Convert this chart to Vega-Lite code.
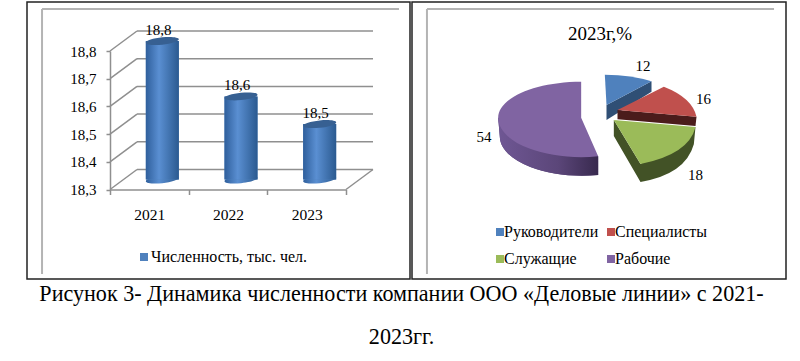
{
"$schema":"https://vega.github.io/schema/vega-lite/v6.json",
"padding":{"left":26,"top":1,"right":0,"bottom":0},
"background":"white",
"config":{"font":"Liberation Serif","view":{"stroke":"#222222","strokeWidth":1.5}},
"title":{"text":["Рисунок 3- Динамика численности компании ООО «Деловые линии» с 2021-","2023гг."],"orient":"bottom","anchor":"middle","fontSize":22.1,"fontWeight":"normal","color":"#000000","lineHeight":43,"offset":4,"dx":-5},
"datasets":{
"staff":[{"year":"2021","value":18.8,"label":"18,8","series":"Численность, тыс. чел."},{"year":"2022","value":18.6,"label":"18,6","series":"Численность, тыс. чел."},{"year":"2023","value":18.5,"label":"18,5","series":"Численность, тыс. чел."}],
"ticks":[{"tick":18.3},{"tick":18.4},{"tick":18.5},{"tick":18.6},{"tick":18.7},{"tick":18.8}],
"shares":[{"group":"Руководители","share":12},{"group":"Специалисты","share":16},{"group":"Служащие","share":18},{"group":"Рабочие","share":54}]
},
"resolve":{"scale":{"color":"independent","x":"independent","y":"independent"},"legend":{"color":"independent"}},
"spacing":0,
"hconcat":[
{"width":383,"height":277,
"resolve":{"scale":{"x":"independent"},"axis":{"y":"independent"}},
"layer":[
{"data":{"values":[{}]},"mark":{"type":"rule","color":"#b4b4b4","strokeWidth":2},
"encoding":{"x":{"datum":-0.288,"type":"quantitative","scale":{"domain":[0,1],"range":[83,319]},"axis":null},"y":{"datum":17.995,"type":"quantitative","scale":{"domain":[18.3,18.8],"range":[187.5,49],"zero":false,"nice":false},"axis":null},"y2":{"datum":18.9516}}},
{"data":{"values":[{}]},"mark":{"type":"rule","color":"#b4b4b4","strokeWidth":2},
"encoding":{"x":{"datum":-0.288,"type":"quantitative","scale":{"domain":[0,1],"range":[83,319]},"axis":null},"x2":{"datum":1.2246},"y":{"datum":18.9516,"type":"quantitative","scale":{"domain":[18.3,18.8],"range":[187.5,49],"zero":false,"nice":false},"axis":null}}},
{"data":{"name":"ticks"},"mark":{"type":"rule","color":"#8f8f8f","strokeWidth":1.5,"xOffset":27,"x2Offset":27,"yOffset":-20,"y2Offset":-20},
"encoding":{"x":{"datum":0,"type":"quantitative","scale":{"domain":[0,1],"range":[83,319]},"axis":null},"x2":{"datum":1},"y":{"field":"tick","type":"quantitative","scale":{"domain":[18.3,18.8],"range":[187.5,49],"zero":false,"nice":false},"axis":null},"y2":{"field":"tick"}}},
{"data":{"name":"ticks"},"mark":{"type":"rule","color":"#8f8f8f","strokeWidth":1.5,"x2Offset":27,"y2Offset":-20},
"encoding":{"x":{"datum":0,"type":"quantitative","scale":{"domain":[0,1],"range":[83,319]},"axis":null},"x2":{"datum":0},"y":{"field":"tick","type":"quantitative","scale":{"domain":[18.3,18.8],"range":[187.5,49],"zero":false,"nice":false},"axis":null},"y2":{"field":"tick"}}},
{"data":{"values":[{"tick":18.3}]},"mark":{"type":"rule","color":"#8f8f8f","strokeWidth":1.5,"x2Offset":27,"y2Offset":-20},
"encoding":{"x":{"datum":1,"type":"quantitative","scale":{"domain":[0,1],"range":[83,319]},"axis":null},"x2":{"datum":1},"y":{"field":"tick","type":"quantitative","scale":{"domain":[18.3,18.8],"range":[187.5,49],"zero":false,"nice":false},"axis":null},"y2":{"field":"tick"}}},
{"data":{"name":"staff"},"mark":{"type":"point","filled":true,"opacity":1,"size":1089,"shape":"M-1,0.1A1,0.22 -6 1 1 1,-0.1A1,0.22 -6 1 1 -1,0.1Z","xOffset":13,"yOffset":-10,"fill":{"gradient":"linear","x1":0,"x2":1,"y1":0,"y2":0,"stops":[{"offset":0,"color":"#2f5f9c"},{"offset":0.4,"color":"#5a8fd2"},{"offset":1,"color":"#2b5a90"}]}},
"encoding":{"x":{"field":"year","type":"nominal","scale":{"type":"band","range":[83,319],"paddingInner":0,"paddingOuter":0},"axis":{"title":null,"labelAngle":0,"tickBand":"extent","domainColor":"#8f8f8f","domainWidth":1.5,"tickColor":"#8f8f8f","tickWidth":1.5,"tickSize":5,"labelFontSize":15.5,"labelColor":"#000000","labelPadding":13,"offset":-89.5,"grid":false}},"y":{"datum":18.3,"type":"quantitative","scale":{"domain":[18.3,18.8],"range":[187.5,49],"zero":false,"nice":false},"axis":{"title":null,"values":[18.3,18.4,18.5,18.6,18.7,18.8],"labelExpr":"replace(format(datum.value,'.1f'),'.',',')","offset":-83,"grid":false,"domainColor":"#8f8f8f","domainWidth":1.5,"tickColor":"#8f8f8f","tickWidth":1.5,"tickSize":4,"labelFontSize":15,"labelColor":"#000000","labelPadding":10}}}},
{"data":{"name":"staff"},"mark":{"type":"bar","orient":"vertical","width":33,"xOffset":13,"yOffset":-10,"y2Offset":-10},
"encoding":{"x":{"field":"year","type":"nominal","scale":{"type":"band","range":[83,319],"paddingInner":0,"paddingOuter":0},"axis":null},"y":{"field":"value","type":"quantitative","scale":{"domain":[18.3,18.8],"range":[187.5,49],"zero":false,"nice":false},"axis":null},"y2":{"datum":18.3},"color":{"field":"series","type":"nominal","scale":{"range":["#4f81bd"]},"legend":{"title":null,"orient":"none","legendX":109,"legendY":247,"symbolType":"square","symbolSize":64,"symbolStrokeWidth":0,"labelFontSize":16,"labelColor":"#000000","labelOffset":-1}}}},
{"data":{"name":"staff"},"mark":{"type":"bar","orient":"vertical","width":33,"xOffset":13,"yOffset":-10,"y2Offset":-10,"fill":{"gradient":"linear","x1":0,"x2":1,"y1":0,"y2":0,"stops":[{"offset":0,"color":"#2f5f9c"},{"offset":0.4,"color":"#5a8fd2"},{"offset":1,"color":"#2b5a90"}]}},
"encoding":{"x":{"field":"year","type":"nominal","scale":{"type":"band","range":[83,319],"paddingInner":0,"paddingOuter":0},"axis":null},"y":{"field":"value","type":"quantitative","scale":{"domain":[18.3,18.8],"range":[187.5,49],"zero":false,"nice":false},"axis":null},"y2":{"datum":18.3}}},
{"data":{"name":"staff"},"mark":{"type":"point","filled":true,"opacity":1,"size":1089,"color":"#376092","shape":"M-1,0.1A1,0.22 -6 1 1 1,-0.1A1,0.22 -6 1 1 -1,0.1Z","xOffset":13,"yOffset":-10},
"encoding":{"x":{"field":"year","type":"nominal","scale":{"type":"band","range":[83,319],"paddingInner":0,"paddingOuter":0},"axis":null},"y":{"field":"value","type":"quantitative","scale":{"domain":[18.3,18.8],"range":[187.5,49],"zero":false,"nice":false},"axis":null}}},
{"data":{"name":"staff"},"mark":{"type":"text","fontSize":15,"color":"#000000","baseline":"middle","xOffset":9,"yOffset":-21},
"encoding":{"x":{"field":"year","type":"nominal","scale":{"type":"band","range":[83,319],"paddingInner":0,"paddingOuter":0},"axis":null},"y":{"field":"value","type":"quantitative","scale":{"domain":[18.3,18.8],"range":[187.5,49],"zero":false,"nice":false},"axis":null},"text":{"field":"label"}}}
]},
{"width":374,"height":277,
"title":{"text":"2023г,%","fontSize":19,"fontWeight":"normal","color":"#000000","offset":-42,"dx":1},
"resolve":{"scale":{"color":"independent","shape":"independent"}},
"layer":[
{"data":{"values":[{}]},"mark":{"type":"rule","color":"#b4b4b4","strokeWidth":2},
"encoding":{"x":{"datum":0.04,"type":"quantitative","scale":{"domain":[0,1],"range":[0,374]},"axis":null},"y":{"datum":0.018,"type":"quantitative","scale":{"domain":[0,1],"range":[277,0]},"axis":null},"y2":{"datum":0.9747}}},
{"data":{"values":[{}]},"mark":{"type":"rule","color":"#b4b4b4","strokeWidth":2},
"encoding":{"x":{"datum":0.04,"type":"quantitative","scale":{"domain":[0,1],"range":[0,374]},"axis":null},"x2":{"datum":0.968},"y":{"datum":0.9747,"type":"quantitative","scale":{"domain":[0,1],"range":[277,0]},"axis":null}}},
{"data":{"name":"shares"},"mark":{"type":"point","filled":true,"opacity":1,"size":40000,"xOffset":-2.5},
"encoding":{
"shape":{"field":"group","type":"nominal","legend":null,"scale":{"domain":["Руководители","Специалисты","Служащие","Рабочие"],"range":["M0.1,-0.355L0.55,-0.5917L0.55,-0.4883L0.1,-0.205Z","M0.21,-0.305L1,-0.2383L0.99,-0.145L0.21,-0.2117Z","M0.1733,-0.205L0.44,0.235L0.99,-0.135L0.9733,0.0383Q0.89,0.3383 0.44,0.415L0.1733,-0.045Z","M-0.9833,-0.2283L-0.9667,-0.035A0.82,0.3933 0 0 0 0.0167,0.345L0.0167,0.1583Z"]}},
"color":{"field":"group","type":"nominal","legend":null,"scale":{"domain":["Руководители","Специалисты","Служащие","Рабочие"],"range":["#2f4f75","#4b1c1b","#425226","#57437a"]}}}},
{"data":{"name":"shares"},"transform":[{"filter":"datum.group=='Рабочие'"}],"mark":{"type":"point","filled":true,"opacity":1,"size":40000,"xOffset":-2.5,"fill":{"gradient":"linear","x1":0,"x2":1,"y1":0,"y2":0,"stops":[{"offset":0,"color":"#6f5794"},{"offset":0.6,"color":"#5b4679"},{"offset":1,"color":"#38294e"}]}},
"encoding":{
"shape":{"field":"group","type":"nominal","legend":null,"scale":{"domain":["Рабочие"],"range":["M-0.9833,-0.2283L-0.9667,-0.035A0.82,0.3933 0 0 0 0.0167,0.345L0.0167,0.1583Z"]}}}},
{"data":{"name":"shares"},"mark":{"type":"point","filled":true,"opacity":1,"size":40000,"xOffset":-2.5},
"encoding":{
"shape":{"field":"group","type":"nominal","legend":null,"scale":{"domain":["Руководители","Специалисты","Служащие","Рабочие"],"range":["M0.0833,-0.6583Q0.3567,-0.655 0.55,-0.5917L0.1,-0.355Z","M0.6733,-0.5383Q0.9567,-0.4283 1,-0.2383L0.21,-0.305Z","M0.1733,-0.205L0.99,-0.135Q0.9233,0.1383 0.44,0.235Z","M-0.1533,-0.2283L-0.1533,-0.5883A0.83,0.36 0 0 0 -0.9833,-0.2283A0.83,0.3933 0 0 0 0.0167,0.1583Z"]}},
"color":{"field":"group","type":"nominal","legend":null,"scale":{"domain":["Руководители","Специалисты","Служащие","Рабочие"],"range":["#4f81bd","#c0504d","#9bbb59","#8064a2"]}}}},
{"data":{"name":"shares"},"mark":{"type":"square","size":0,"opacity":1},
"encoding":{
"color":{"field":"group","type":"nominal","scale":{"domain":["Руководители","Специалисты","Служащие","Рабочие"],"range":["#4f81bd","#c0504d","#9bbb59","#8064a2"]},"legend":{"title":null,"orient":"none","legendX":80,"legendY":222,"columns":2,"direction":"horizontal","symbolType":"square","symbolSize":64,"symbolStrokeWidth":0,"labelFontSize":16,"labelColor":"#000000","labelOffset":-4,"rowPadding":11,"columnPadding":4}}}},
{"data":{"name":"shares"},"transform":[{"filter":"datum.share==12"}],"mark":{"type":"text","fontSize":15,"color":"#000000","baseline":"middle","dx":44,"dy":-74.5},"encoding":{"text":{"field":"share","type":"quantitative"}}},
{"data":{"name":"shares"},"transform":[{"filter":"datum.share==16"}],"mark":{"type":"text","fontSize":15,"color":"#000000","baseline":"middle","dx":104.5,"dy":-41.2},"encoding":{"text":{"field":"share","type":"quantitative"}}},
{"data":{"name":"shares"},"transform":[{"filter":"datum.share==18"}],"mark":{"type":"text","fontSize":15,"color":"#000000","baseline":"middle","dx":96.5,"dy":34.2},"encoding":{"text":{"field":"share","type":"quantitative"}}},
{"data":{"name":"shares"},"transform":[{"filter":"datum.share==54"}],"mark":{"type":"text","fontSize":15,"color":"#000000","baseline":"middle","dx":-115,"dy":-3.5},"encoding":{"text":{"field":"share","type":"quantitative"}}}
]}
]}
